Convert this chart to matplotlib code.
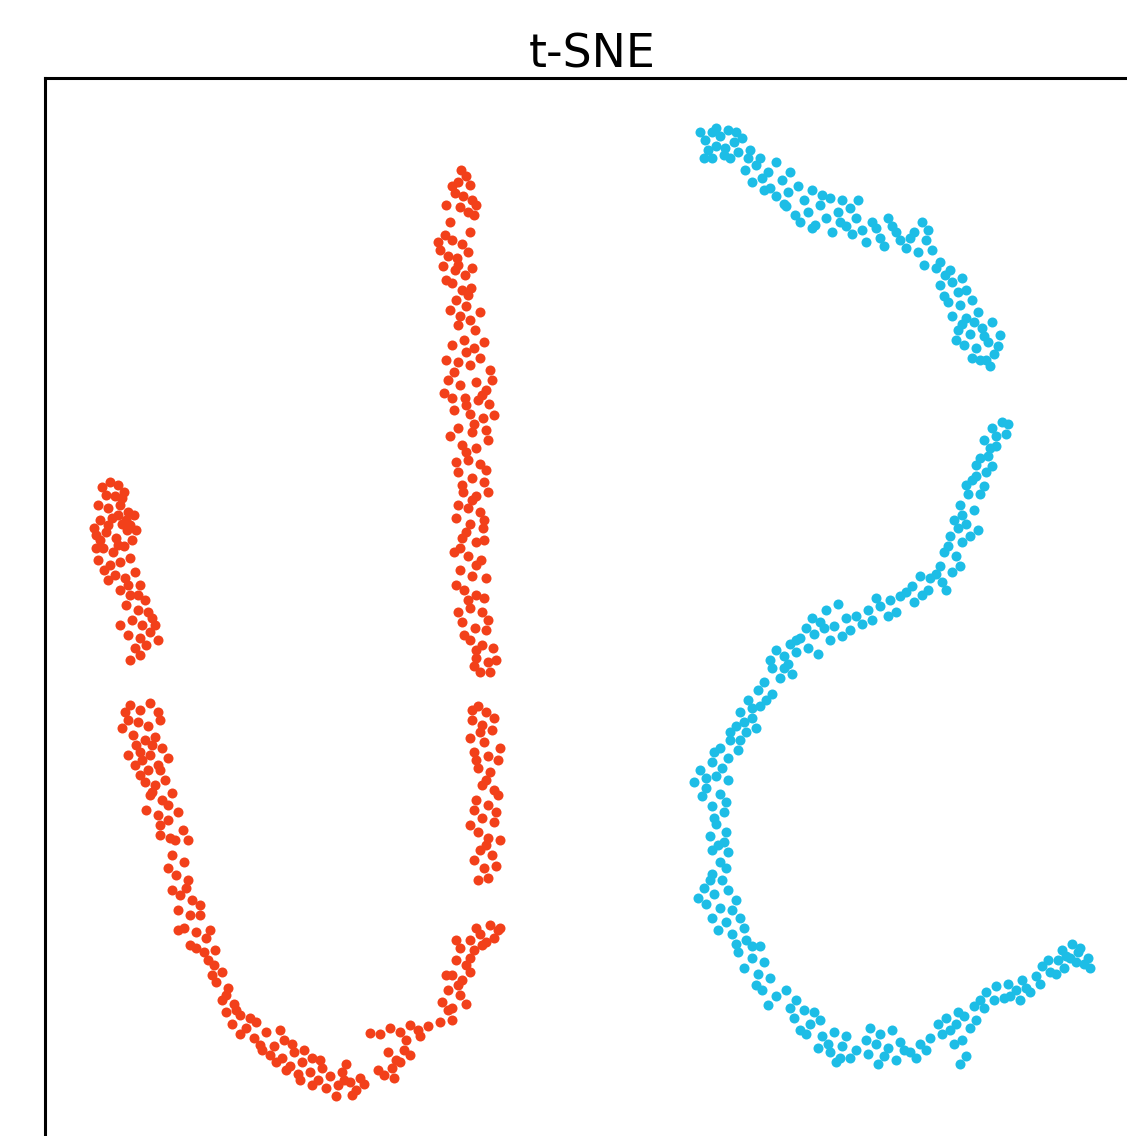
import matplotlib
matplotlib.use('Agg')
import matplotlib.pyplot as plt
import numpy as np

# t-SNE embedding, class 0 (red): three pieces of the "U"
red_left_arm = [
    (10.2,-48.7),(11.0,-48.2),(11.8,-48.5),(10.6,-49.5),(11.5,-49.6),(12.4,-49.2),(9.8,-50.5),(10.8,-50.8),
    (12.0,-50.5),(12.8,-51.2),(10.0,-52.0),(11.2,-51.8),(12.2,-52.4),(9.6,-53.5),(10.6,-53.2),(11.6,-53.8),
    (12.7,-53.0),(13.4,-51.5),(10.3,-54.8),(11.3,-55.2),(12.4,-54.6),(13.2,-54.0),(9.8,-56.0),(11.0,-56.5),
    (12.0,-56.2),(13.0,-55.8),(11.5,-57.5),(12.5,-57.8),(13.5,-57.2),(12.0,-59.0),(13.0,-59.5),(14.0,-58.5),
    (12.6,-60.5),(13.8,-61.0),(14.5,-60.0),(13.2,-62.0),(14.2,-62.5),(15.2,-61.8),(12.8,-63.5),(14.0,-63.8),
    (15.0,-63.2),(15.5,-62.5),(13.5,-64.8),(14.6,-64.5),(13.0,-66.0),
    (9.4,-52.8),(10.0,-54.0),(10.8,-52.5),(11.8,-51.5),(12.6,-52.0),(10.4,-57.0),(9.6,-54.8),(12.2,-49.8),
    (13.0,-52.5),(13.6,-53.0),(11.8,-54.5),(10.8,-58.0),(12.8,-58.5),(13.8,-59.5),(14.8,-61.2),(12.0,-62.5),
    (15.8,-64.0),(14.0,-65.5),
    (13.0,-70.5),(14.0,-71.0),(15.0,-70.3),(15.8,-71.2),(12.8,-72.0),(13.8,-72.2),(14.8,-72.6),(16.0,-72.0),
    (13.3,-73.5),(14.5,-74.0),(15.5,-73.7),(14.0,-75.2),(15.0,-75.5),(16.2,-74.8),(13.5,-76.5),(14.8,-77.0),
    (15.8,-76.5),(16.8,-75.8),(14.5,-78.2),(15.5,-78.5),(16.5,-78.0),(15.0,-79.5),(16.2,-80.0),(17.2,-79.3),
    (15.8,-81.5),(16.8,-82.0),(17.8,-81.2),(16.0,-83.5),(17.0,-83.8),(18.3,-83.0),
    (12.5,-71.2),(12.2,-72.8),(13.6,-74.5),(15.2,-74.5),(12.8,-75.5),(14.2,-76.0),(16.0,-77.0),(14.0,-77.5),
    (15.2,-79.2),(16.8,-80.5),(14.6,-81.0),(16.0,-82.5),(17.5,-84.0),(18.8,-84.0),
]
red_bottom = [
    (17.2,-85.5),(18.4,-86.2),(17.6,-87.5),(18.8,-88.0),(18.0,-89.5),(19.2,-90.0),(17.8,-91.0),(19.0,-91.5),
    (20.0,-90.5),(18.4,-92.8),(19.6,-93.2),(20.6,-93.8),(19.0,-94.5),(20.4,-95.2),(21.4,-96.5),(22.2,-97.2),
    (21.6,-98.2),(22.8,-98.8),(22.2,-100.0),(23.4,-100.4),(22.6,-101.2),(24.0,-101.5),(23.2,-102.4),(24.6,-102.8),
    (25.6,-102.2),(24.0,-103.4),(25.4,-103.8),(26.6,-103.2),(26.0,-104.5),(27.4,-104.6),(28.4,-104.0),(27.0,-105.5),
    (28.2,-105.8),(29.4,-105.2),(29.0,-106.6),(30.2,-106.2),(31.2,-105.8),(29.8,-107.4),(31.0,-107.2),(32.2,-106.8),
    (31.8,-108.0),(33.0,-107.6),(34.2,-107.2),(32.6,-108.8),(33.8,-108.5),(35.0,-108.2),(36.0,-107.8),(33.6,-109.6),
    (35.6,-109.0),
    (16.8,-86.8),(18.6,-88.8),(17.2,-89.0),(20.0,-91.5),(17.8,-93.0),(19.6,-94.8),(21.0,-93.0),(21.5,-95.0),
    (20.8,-96.0),(21.2,-97.5),(22.6,-99.5),(23.6,-101.0),(25.0,-101.8),(26.2,-105.0),(27.6,-106.2),(28.6,-107.0),
    (30.0,-108.0),(31.2,-108.5),(32.0,-106.0),(34.4,-108.0),(35.2,-109.5),(36.4,-108.4),(30.4,-105.0),(29.2,-104.4),
    (28.0,-103.0),(34.6,-106.4),
    (38.4,-107.5),(39.2,-106.8),(40.0,-106.2),(39.6,-106.0),(41.0,-105.5),(40.6,-104.0),(38.0,-103.4),(37.0,-103.3),
    (39.0,-102.8),(40.0,-103.2),(41.0,-102.5),(41.8,-103.0),(42.8,-102.6),(44.0,-102.2),(42.0,-103.6),(45.2,-102.0),
    (37.8,-107.0),(38.8,-105.2),(40.4,-105.0),(39.4,-107.8),
]
red_right_arm = [
    (46.1,-17.0),(46.6,-17.6),(45.8,-18.2),(47.0,-18.5),(45.5,-19.3),(46.3,-19.6),(47.2,-20.0),(44.6,-20.5),
    (46.0,-20.7),(46.8,-21.2),(47.4,-21.5),(44.5,-23.5),(45.2,-24.0),(46.2,-24.4),(44.0,-25.0),(44.8,-25.6),
    (45.7,-25.8),(46.8,-25.2),(44.3,-26.6),(45.5,-27.0),(46.5,-27.5),(45.2,-28.3),(46.2,-29.0),(47.1,-28.8),
    (45.6,-30.0),(46.6,-30.6),(46.0,-31.6),(47.0,-32.0),(47.5,-33.0),(45.2,-34.5),(46.4,-34.0),(47.4,-34.8),
    (48.4,-34.2),(44.6,-36.0),(45.8,-36.2),(47.0,-36.5),(48.0,-35.8),(49.0,-37.0),(44.8,-38.0),(46.0,-38.5),
    (47.6,-38.2),(48.6,-39.0),(44.4,-39.3),(46.5,-39.8),(47.8,-40.0),(48.9,-40.4),(45.4,-41.0),(47.0,-41.4),
    (48.3,-41.8),(45.8,-42.8),(47.2,-43.2),(48.6,-43.0),(46.2,-44.5),(47.6,-44.8),(46.8,-46.0),(48.0,-46.4),
    (45.8,-47.2),(47.2,-47.8),(48.4,-48.2),(46.3,-49.2),(47.6,-49.6),(46.8,-50.8),(48.0,-51.2),(45.6,-51.8),
    (47.0,-52.4),(48.3,-52.8),(46.2,-53.8),(47.6,-54.2),(45.4,-55.2),(46.8,-55.6),(48.1,-56.0),(46.0,-57.0),
    (47.2,-57.6),(46.4,-59.0),(47.6,-59.5),(47.0,-60.8),(48.2,-61.2),(46.2,-62.2),(47.5,-62.8),(48.6,-63.0),
    (47.0,-64.0),(48.2,-64.5),(49.3,-64.8),(47.6,-65.8),(48.8,-66.2),(48.0,-67.2),
    (45.2,-18.6),(47.6,-20.5),(45.0,-22.2),(47.0,-23.2),(43.8,-24.2),(45.8,-26.5),(47.2,-26.8),(44.6,-28.0),
    (46.8,-29.5),(45.0,-31.0),(48.0,-31.2),(45.8,-32.5),(46.6,-35.2),(45.4,-37.2),(49.2,-38.0),(48.2,-39.5),
    (45.2,-39.8),(46.6,-40.5),(49.4,-41.5),(47.4,-42.4),(45.0,-43.6),(48.8,-44.0),(46.6,-45.2),(45.6,-46.2),
    (48.6,-47.0),(46.2,-48.5),(48.8,-49.2),(47.2,-50.0),(45.8,-50.5),(48.4,-52.0),(46.6,-53.2),(48.4,-54.0),
    (46.0,-54.8),(47.6,-56.5),(48.6,-57.8),(45.6,-58.5),(48.4,-59.8),(46.8,-60.0),(45.8,-61.2),(48.8,-62.0),
    (46.4,-63.5),(47.6,-65.0),(49.6,-66.0),(49.0,-67.2),(47.4,-66.6),
    (47.8,-70.6),(48.6,-71.2),(47.2,-72.0),(48.2,-72.5),(49.2,-73.0),(47.0,-73.8),(48.4,-74.2),(47.4,-75.2),
    (48.8,-75.6),(49.8,-76.0),(47.8,-76.8),(49.0,-77.2),(48.2,-78.5),(49.4,-79.0),(47.6,-80.0),(48.8,-80.5),
    (48.2,-81.8),(49.4,-82.2),(47.8,-83.2),(48.8,-83.8),(48.0,-85.0),(49.2,-85.5),(48.4,-86.8),(47.8,-88.0),
    (47.2,-71.0),(49.4,-71.8),(48.0,-73.2),(47.6,-76.0),(50.0,-74.8),(48.6,-78.0),(49.8,-79.5),(47.4,-81.0),
    (49.6,-81.2),(47.0,-82.5),(50.0,-84.0),(48.6,-84.5),(47.4,-86.0),(49.6,-86.6),(48.8,-87.8),
    (49.0,-92.5),(49.8,-93.0),(48.0,-93.4),(47.0,-94.0),(48.6,-94.2),(46.0,-94.8),(47.4,-95.0),(45.6,-96.0),
    (46.6,-96.5),(45.2,-97.5),(46.2,-98.0),(47.0,-97.2),(44.8,-99.0),(46.0,-99.5),(45.2,-100.8),(46.6,-100.4),
    (44.8,-101.0),(45.8,-98.5),(44.2,-100.2),(47.0,-95.8),(48.2,-94.5),(49.4,-93.8),(50.0,-92.8),(47.6,-92.8),
    (44.6,-97.5),(45.6,-94.0),
]

# class 1 (cyan): upper arc and the long "S" tail
blue_top_arm = [
    (70.5,-14.0),(71.2,-13.2),(72.0,-13.6),(72.8,-13.0),(70.8,-15.0),(71.6,-14.6),(72.5,-14.8),(73.4,-14.2),
    (74.2,-13.8),(71.2,-15.8),(72.4,-15.5),(73.8,-15.2),(74.8,-15.8),(74.5,-17.0),(75.6,-16.5),(76.2,-17.8),
    (75.2,-18.2),(76.8,-17.2),(77.6,-16.2),(77.0,-18.8),(78.2,-18.0),(79.0,-17.2),(77.6,-19.6),(78.8,-19.2),
    (79.8,-18.6),(78.6,-20.6),(79.5,-21.5),(80.4,-20.0),(81.2,-19.0),(80.8,-21.2),(82.0,-20.5),(83.0,-19.8),
    (81.5,-22.5),(82.6,-21.8),(83.8,-21.2),(84.2,-20.0),(83.2,-23.2),(84.6,-22.6),(85.6,-21.8),(85.0,-20.8),
    (86.2,-23.0),(87.2,-22.2),(86.6,-24.2),(88.0,-23.8),(89.2,-22.6),(88.8,-21.8),(90.0,-24.0),(91.4,-23.2),
    (92.2,-22.2),(90.6,-24.8),(91.8,-25.2),(92.6,-24.0),(93.2,-25.0),(92.4,-26.5),(93.6,-26.8),(94.5,-27.5),
    (94.0,-28.5),(95.2,-28.2),(96.2,-27.8),(95.8,-29.2),(94.8,-30.2),(96.0,-30.5),(97.2,-30.0),(95.2,-31.6),
    (96.6,-31.8),(97.8,-31.2),(95.8,-33.0),(97.0,-33.4),(98.2,-32.8),(99.2,-32.2),(96.4,-34.5),(97.6,-34.8),
    (98.8,-34.2),(99.8,-34.6),(97.2,-35.8),(98.6,-36.0),(99.4,-35.4),
    (70.0,-13.2),(71.6,-12.8),(70.4,-15.8),(73.0,-15.8),(73.6,-13.2),(75.0,-15.0),(76.0,-15.8),(76.4,-19.0),
    (78.4,-20.4),(80.0,-22.2),(81.2,-22.8),(82.2,-19.5),(84.0,-22.2),(85.2,-23.4),(85.8,-20.0),(87.6,-22.8),
    (88.4,-24.6),(89.6,-23.2),(91.0,-23.8),(92.8,-23.0),(94.0,-26.2),(95.0,-27.0),(96.6,-29.0),(94.4,-29.6),
    (95.6,-34.0),(98.4,-33.6),(98.0,-36.0),(99.0,-36.6),(96.2,-32.4),(97.4,-32.2),(100.0,-33.5),
]
blue_s_curve = [
    (100.2,-42.2),(99.2,-42.8),(100.6,-43.4),(98.4,-44.0),(99.6,-44.6),(98.8,-45.6),(97.6,-46.5),(98.6,-47.2),
    (97.2,-48.0),(98.4,-48.6),(96.8,-49.4),(96.0,-50.5),(97.4,-51.0),(95.4,-52.0),(96.6,-52.4),(97.8,-53.0),
    (95.0,-53.6),(96.2,-54.2),(94.4,-55.2),(95.6,-55.6),(94.0,-56.6),(95.2,-57.2),(93.0,-57.8),(94.2,-58.2),
    (92.0,-57.6),(92.8,-59.0),(91.2,-58.6),(90.0,-59.6),(91.4,-60.2),(89.0,-60.0),(88.0,-60.6),(89.6,-61.2),
    (86.8,-61.0),(85.6,-61.6),(87.2,-62.0),(84.6,-61.8),(83.8,-60.4),(82.6,-61.0),(85.0,-63.0),(83.4,-62.6),
    (82.0,-62.2),(81.4,-63.4),(83.0,-64.0),(80.6,-62.8),(80.0,-63.8),(79.0,-64.4),(80.8,-64.8),(79.6,-65.2),
    (78.4,-65.6),(77.6,-65.0),(78.8,-66.4),(77.2,-66.8),(78.0,-67.8),(76.4,-68.2),(75.8,-69.0),(77.2,-69.4),
    (74.8,-70.0),(76.0,-70.6),(74.0,-71.2),(75.2,-71.8),(73.6,-72.6),(74.6,-73.2),(73.0,-74.0),(72.0,-74.8),
    (73.8,-75.0),(72.8,-75.8),(71.2,-76.2),(70.0,-77.0),(71.6,-77.6),(72.8,-78.0),(70.6,-78.8),(72.0,-79.4),
    (71.2,-80.6),(72.4,-81.2),(71.6,-82.4),(72.6,-83.2),(71.8,-84.5),(72.8,-85.2),(72.0,-86.2),(71.2,-87.4),
    (72.2,-88.0),(70.4,-88.8),(71.4,-89.4),(72.8,-89.0),(70.6,-90.4),(72.0,-90.8),(73.6,-90.0),(71.2,-91.8),
    (72.6,-92.2),(74.0,-91.8),(73.2,-93.4),(74.6,-94.0),(73.8,-95.2),(75.2,-95.8),(76.4,-96.2),(74.4,-96.8),
    (75.8,-97.4),(77.0,-97.8),(76.2,-99.0),(77.6,-99.6),(79.6,-100.0),(80.4,-101.0),(79.4,-101.8),(81.0,-102.4),
    (82.0,-102.0),(80.6,-103.4),(82.2,-103.6),(83.4,-103.2),(81.8,-104.8),(83.0,-105.2),(84.2,-104.6),(83.6,-106.2),
    (85.0,-105.8),(87.0,-102.8),(88.0,-103.4),(89.2,-103.0),(87.6,-104.4),(88.8,-104.8),(90.0,-104.2),(88.4,-105.6),
    (89.6,-106.0),(91.0,-105.2),(92.0,-104.4),(93.0,-103.8),(93.8,-102.4),(94.6,-101.8),(95.0,-103.0),(95.8,-101.2),
    (96.2,-104.0),(96.6,-105.6),(96.0,-106.4),(97.0,-102.8),(97.4,-100.6),(98.0,-100.0),(98.6,-99.2),(99.6,-98.6),
    (100.4,-99.8),(100.8,-98.4),(101.6,-99.0),(102.2,-98.0),(103.0,-99.2),(103.6,-97.6),(104.2,-96.6),(105.0,-97.2),
    (105.8,-96.0),(106.2,-95.0),(107.0,-95.8),(107.8,-95.2),(108.4,-96.4),(107.2,-94.4),(106.4,-96.8),
    (100.8,-42.4),(99.6,-43.6),(99.0,-44.8),(98.0,-45.8),(99.2,-46.6),(97.6,-47.6),(96.6,-48.5),(98.0,-49.4),
    (96.2,-51.5),(97.0,-53.6),(95.8,-52.8),(94.8,-54.6),(96.0,-56.6),(94.6,-59.0),(93.6,-57.4),(92.2,-59.5),
    (90.6,-59.2),(88.8,-61.6),(87.6,-59.8),(86.2,-62.4),(84.2,-63.6),(82.4,-62.8),(81.2,-61.8),(79.6,-64.0),
    (81.8,-65.4),(78.4,-66.8),(77.0,-66.0),(79.2,-67.4),(76.6,-70.0),(75.2,-70.8),(74.4,-72.2),(75.6,-72.8),
    (73.0,-73.2),(74.0,-74.0),(71.4,-75.2),(72.2,-76.8),(70.6,-77.8),(69.4,-78.2),(70.2,-79.6),(72.6,-80.2),
    (71.4,-81.8),(71.0,-83.6),(72.4,-84.2),(71.2,-85.0),(72.6,-86.8),(71.0,-88.0),(69.8,-89.8),(73.2,-91.0),
    (71.8,-93.0),(74.4,-92.8),(75.2,-94.6),(73.6,-94.4),(76.0,-94.6),(75.6,-98.5),(76.8,-100.5),(78.6,-99.0),
    (79.0,-100.8),(80.0,-103.0),(81.4,-101.2),(82.8,-104.4),(84.6,-103.6),(84.0,-105.8),(85.6,-105.0),(86.6,-104.0),
    (86.8,-105.4),(87.8,-106.4),(90.4,-105.0),(91.6,-105.8),(92.6,-105.0),(94.2,-103.4),(95.4,-104.4),(95.6,-102.4),
    (96.4,-101.6),(97.6,-102.0),(98.4,-100.8),(99.4,-100.0),(101.0,-99.6),(102.0,-100.0),(102.6,-98.8),(104.0,-98.4),
    (104.8,-96.0),(105.6,-97.4),(106.6,-95.6),(108.0,-94.8),(108.8,-95.8),(109.0,-96.8),(107.6,-96.2),
]

red = np.array(red_left_arm + red_bottom + red_right_arm)
blue = np.array(blue_top_arm + blue_s_curve)

fig = plt.figure(figsize=(11.27, 11.36), dpi=100)
ax = fig.add_axes([0.03993, -0.03169, 0.97072, 0.96303])
ax.scatter(red[:, 0], red[:, 1], s=52, c='#F2401A', linewidths=0)
ax.scatter(blue[:, 0], blue[:, 1], s=52, c='#1DBDE6', linewidths=0)
ax.set_xlim(4.5, 113.9)
ax.set_ylim(-117.2, -7.8)
ax.set_xticks([])
ax.set_yticks([])
for sp in ax.spines.values():
    sp.set_linewidth(2.2)
ax.set_title('t-SNE', fontsize=33, pad=5)

plt.savefig('out.png')
